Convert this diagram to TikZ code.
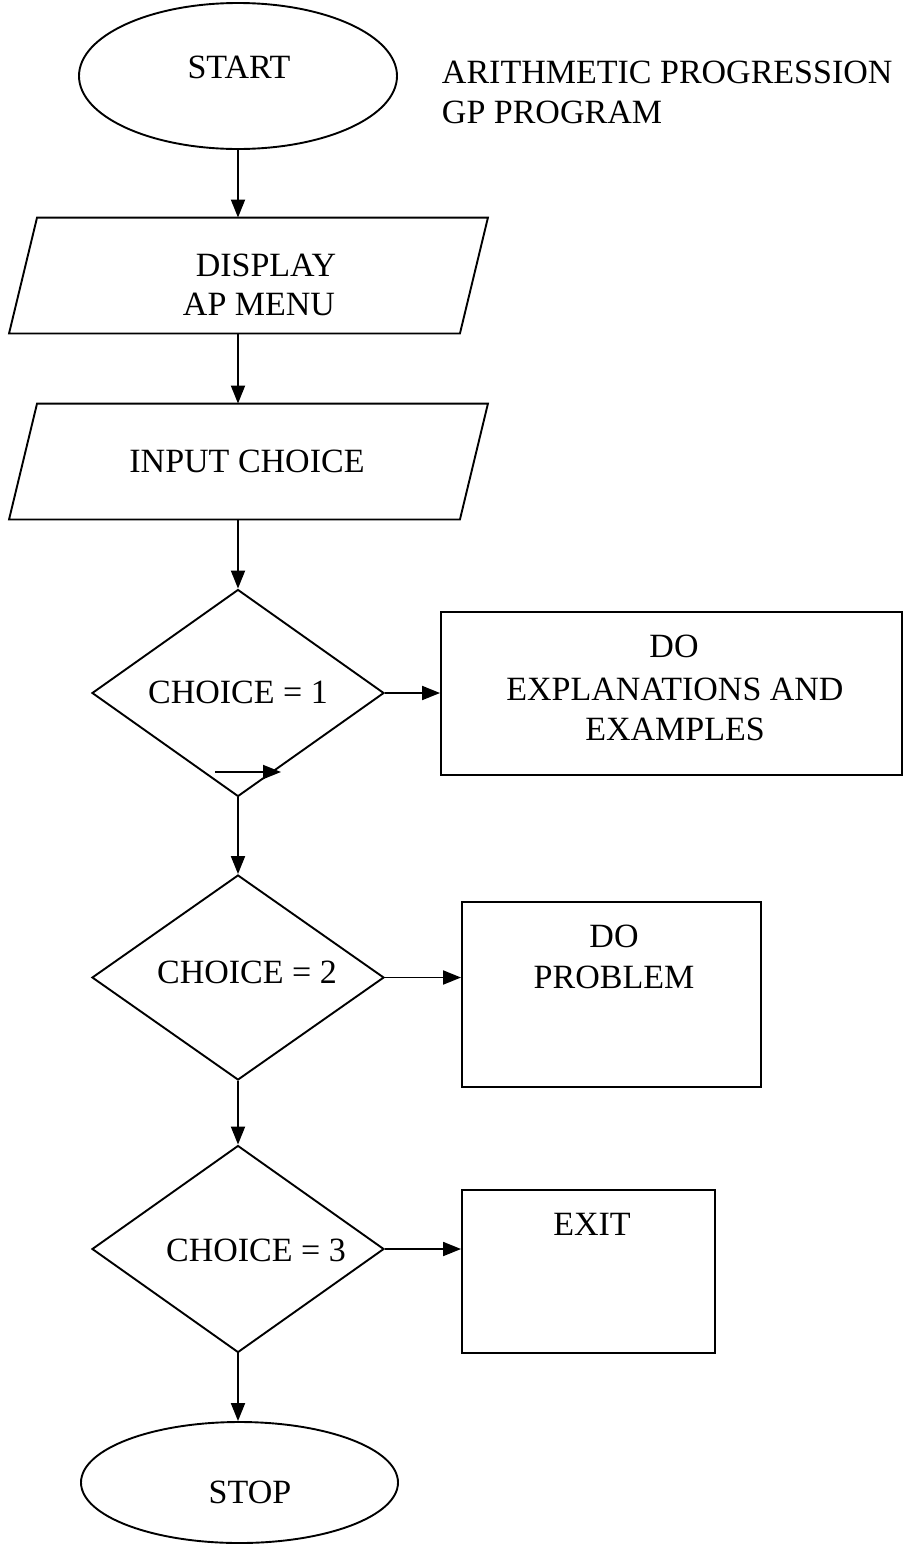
\documentclass[tikz,border=0pt]{standalone}
\usepackage{fontspec}
\setmainfont{Liberation Serif}
\usetikzlibrary{shapes.geometric,arrows.meta}
\begin{document}
\begin{tikzpicture}[x=1pt,y=-1pt,
  line width=1.9pt,
  term/.style={draw,ellipse,inner sep=0pt},
  iobox/.style={rectangle,inner sep=0pt,minimum width=477pt,minimum height=114pt},
  dec/.style={draw,diamond,inner sep=0pt,minimum width=292pt,minimum height=207pt},
  proc/.style={draw,rectangle,inner sep=0pt},
  txt/.style={inner sep=0pt,anchor=base,font=\fontsize{34}{40}\selectfont},
  arr/.style={-{Triangle[length=18pt,width=14pt]}},
]
\useasboundingbox (0,0) rectangle (913,1545);
% shapes
\node[term,minimum width=318pt,minimum height=146pt] (start) at (238,76) {};
\node[iobox] (p1) at (248.5,275.5) {};
\node[iobox] (p2) at (248.5,461.5) {};
\foreach \p in {p1,p2}
  \draw ([xshift=28pt]\p.north west) -- (\p.north east) -- ([xshift=-28pt]\p.south east) -- (\p.south west) -- cycle;
\node[dec] (d1) at (238,693) {};
\node[dec,minimum height=205pt] (d2) at (238,977.5) {};
\node[dec] (d3) at (238,1249) {};
\node[term,minimum width=317pt,minimum height=121pt] (stop) at (239.5,1482.5) {};
\node[proc,minimum width=461pt,minimum height=163pt] (b1) at (671.5,693.5) {};
\node[proc,minimum width=299pt,minimum height=185pt] (b2) at (611.5,994.5) {};
\node[proc,minimum width=253pt,minimum height=163pt] (b3) at (588.5,1271.5) {};
% texts
\node[txt] (tstart) at (239,78) {START};
\node[txt,anchor=base west] (title1) at (441,83) {ARITHMETIC PROGRESSION};
\node[txt,anchor=base west] (title2) at (441,123) {GP PROGRAM};
\node[txt] (tdisp1) at (266,276) {DISPLAY};
\node[txt] (tdisp2) at (259,315) {AP MENU};
\node[txt] (tinput) at (247,472) {INPUT CHOICE};
\node[txt] (tc1) at (238,703) {CHOICE = 1};
\node[txt] (tb1a) at (674,657) {DO};
\node[txt] (tb1b) at (675,700) {EXPLANATIONS AND};
\node[txt] (tb1c) at (675,740) {EXAMPLES};
\node[txt] (tc2) at (247,983) {CHOICE = 2};
\node[txt] (tb2a) at (614,947) {DO};
\node[txt] (tb2b) at (614,988) {PROBLEM};
\node[txt] (tc3) at (256,1261) {CHOICE = 3};
\node[txt] (tb3) at (592,1235) {EXIT};
\node[txt] (tstop) at (250,1503) {STOP};
% connectors
\draw[arr] (start) -- (start |- p1.north);
\draw[arr] (d1 |- p1.south) -- (d1 |- p2.north);
\draw[arr] (d1 |- p2.south) -- (d1.north);
\draw[arr] (d1.south) -- (d2.north);
\draw[arr] (d2.south) -- (d3.north);
\draw[arr] (d3.south) -- (d3.south |- stop.north);
\draw[arr] (d1.east) -- (b1.west |- d1.east);
\draw[arr] (d2.east) -- (b2.west |- d2.east);
\draw[arr] (d3.east) -- (b3.west |- d3.east);
\coordinate (sa) at (215,772);
\coordinate (sb) at (281,772);
\draw[arr] (sa) -- (sb);
\end{tikzpicture}
\end{document}
